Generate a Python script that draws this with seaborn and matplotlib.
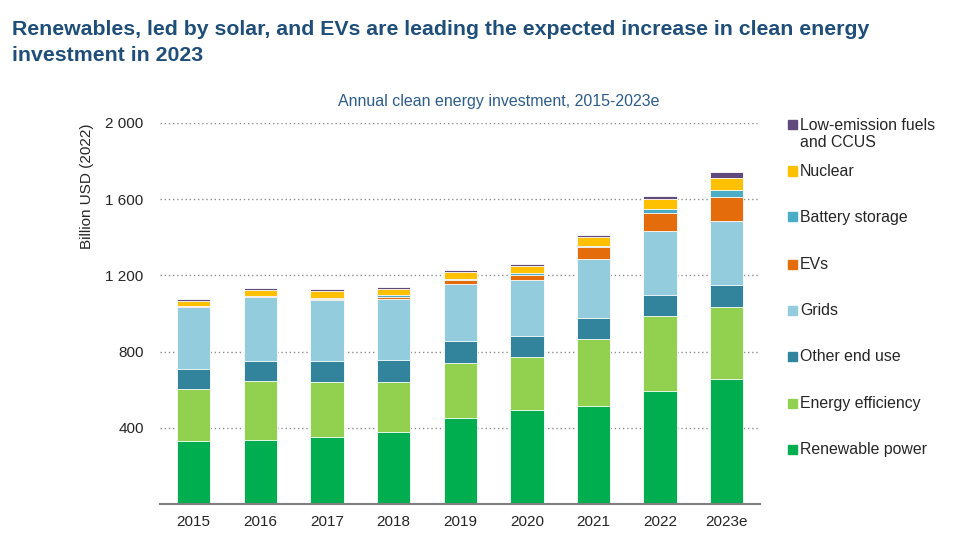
import numpy as np
import pandas as pd
import matplotlib.pyplot as plt
import seaborn as sns
from matplotlib.patches import Rectangle

# data (billion USD 2022)
years = ["2015", "2016", "2017", "2018", "2019", "2020", "2021", "2022", "2023e"]
renewable_power = [328, 337, 349, 376, 449, 491, 515, 594, 657]
energy_efficiency = [275, 306, 289, 263, 293, 281, 351, 393, 379]
other_end_use = [106, 105, 110, 119, 112, 107, 109, 112, 115]
grids = [327, 340, 323, 318, 302, 297, 311, 333, 334]
evs = [2, 3, 5, 11, 21, 28, 61, 95, 127]
battery_storage = [1, 2, 5, 7, 6, 7, 9, 21, 37]
nuclear = [26, 30, 37, 35, 36, 38, 43, 52, 64]
low_emission = [10, 11, 11, 10, 9, 12, 11, 16, 28]

series = ["Renewable power", "Energy efficiency", "Other end use", "Grids",
          "EVs", "Battery storage", "Nuclear", "Low-emission fuels\nand CCUS"]
values = [renewable_power, energy_efficiency, other_end_use, grids,
          evs, battery_storage, nuclear, low_emission]
colors = ["#00AD4F", "#92D050", "#31849B", "#93CDDD",
          "#E46C0A", "#4BACC6", "#FFC000", "#604A7B"]

sns.set_style("white")
plt.rcParams['font.family'] = ['Liberation Sans', 'DejaVu Sans']

fig = plt.figure(figsize=(9.72, 5.46), dpi=100)
ax = fig.add_axes([0.165, 0.077, 0.617, 0.698])

# stacked bars: draw cumulative totals from the top layer down
cum = np.cumsum(np.array(values), axis=0)
for i in range(len(series) - 1, -1, -1):
    sns.barplot(x=years, y=cum[i], color=colors[i], saturation=1, width=0.5,
                edgecolor="white", linewidth=0.6, ax=ax)

ax.set_xlim(-0.5, 8.5)
ax.set_ylim(0, 2000)
ax.set_yticks([400, 800, 1200, 1600, 2000])
ax.set_yticklabels(["400", "800", "1 200", "1 600", "2 000"], fontsize=11)
ax.tick_params(axis='x', labelsize=11, length=0, pad=8)
ax.tick_params(axis='y', length=0, pad=12)
ax.yaxis.grid(True, linestyle=(0, (1, 2)), color="#8c8c8c", linewidth=1)
ax.set_axisbelow(True)
for s in ["top", "right", "left"]:
    ax.spines[s].set_visible(False)
ax.spines["bottom"].set_color("#7f7f7f")
ax.spines["bottom"].set_linewidth(1.5)
ax.set_xlabel("")
ax.set_ylabel("Billion USD (2022)", fontsize=11)
ax.yaxis.set_label_coords(-0.11, 0.834)

# titles
fig.text(0.012, 0.963,
         "Renewables, led by solar, and EVs are leading the expected increase in clean energy\ninvestment in 2023",
         fontsize=15.3, fontweight="bold", color="#1F4E79", va="top", ha="left", linespacing=1.42)
fig.text(0.513, 0.815, "Annual clean energy investment, 2015-2023e",
         fontsize=11.5, color="#2E5C8A", ha="center", va="center")

# legend on the right, top entry first
ys = [125, 171, 217, 264, 310, 356, 403, 449]
for k, i in enumerate(range(len(series) - 1, -1, -1)):
    yp = 1 - ys[k] / 546
    fig.add_artist(Rectangle((788 / 972, yp - 4.5 / 546), 9 / 972, 9 / 546,
                             transform=fig.transFigure, color=colors[i]))
    fig.text(800 / 972, yp + 7 / 546, series[i], fontsize=11.4, va="top",
             ha="left", linespacing=1.15)

plt.savefig("out.png", dpi=100)
plt.close()
